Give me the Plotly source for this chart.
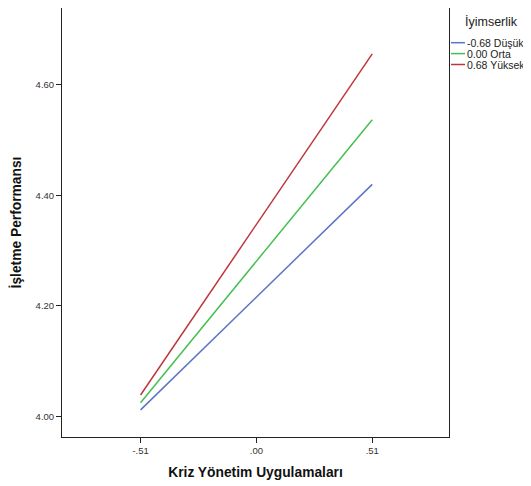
import plotly.graph_objects as go

x_vals = [-0.51, 0.51]
x_ticks = [-0.51, 0.0, 0.51]
x_ticklabels = ["-.51", ".00", ".51"]
y_ticks = [4.0, 4.2, 4.4, 4.6]
y_ticklabels = ["4.00", "4.20", "4.40", "4.60"]

series_names = ["-0.68 Düşük", "0.00 Orta", "0.68 Yüksek"]
series_low = [4.012, 4.025, 4.039]
series_high = [4.420, 4.537, 4.656]
series_colors = ["#5B74C6", "#45BF52", "#BE363C"]

OFF = 8  # page body margin
L, R, T, B = 62 - OFF, 449 - OFF, 0, 437 - OFF
W, H = 531 - OFF, 486 - OFF

fig = go.Figure()
for name, lo, hi, col in zip(series_names, series_low, series_high, series_colors):
    fig.add_trace(go.Scatter(x=x_vals, y=[lo, hi], mode="lines", name=name,
                             line=dict(color=col, width=1.5), showlegend=False))

def px(xp):
    return (xp - OFF - L) / (R - L)

def py(yp):
    return (B - (yp - OFF)) / (B - T)

# custom legend
fig.add_annotation(x=px(463), y=py(22), xref="paper", yref="paper", text="İyimserlik",
                   showarrow=False, xanchor="left", yanchor="middle",
                   font=dict(family="Liberation Sans, Arial", size=12.5, color="#222"))
for i, (name, col) in enumerate(zip(series_names, series_colors)):
    yy = 42.7 + i * 10.9
    fig.add_shape(type="line", xref="paper", yref="paper", x0=px(451), x1=px(465),
                  y0=py(yy), y1=py(yy), line=dict(color=col, width=1.5))
    fig.add_annotation(x=px(465), y=py(yy), xref="paper", yref="paper", text=name,
                       showarrow=False, xanchor="left", yanchor="middle",
                       font=dict(family="Liberation Sans, Arial", size=10.5, color="#222"))

axis_common = dict(showgrid=False, zeroline=False, showline=True, linecolor="#222",
                   linewidth=1, mirror=True, ticks="outside", ticklen=5, tickcolor="#222",
                   tickfont=dict(family="Liberation Sans, Arial", size=9.5, color="#333"))

fig.update_xaxes(range=[-0.856, 0.848], tickvals=x_ticks, ticktext=x_ticklabels,
                 title=dict(text="<b>Kriz Yönetim Uygulamaları</b>", standoff=11,
                            font=dict(family="Liberation Sans, Arial", size=13.8, color="#111")),
                 **axis_common)
fig.update_yaxes(range=[3.963, 4.739], tickvals=y_ticks, ticktext=y_ticklabels,
                 title=dict(text="<b>İşletme Performansı</b>", standoff=10,
                            font=dict(family="Liberation Sans, Arial", size=13.8, color="#111")),
                 **axis_common)

fig.update_layout(width=W, height=H, margin=dict(l=L, r=W - R, t=T, b=H - B, autoexpand=False),
                  plot_bgcolor="white", paper_bgcolor="white")
fig.write_html("out.html")
